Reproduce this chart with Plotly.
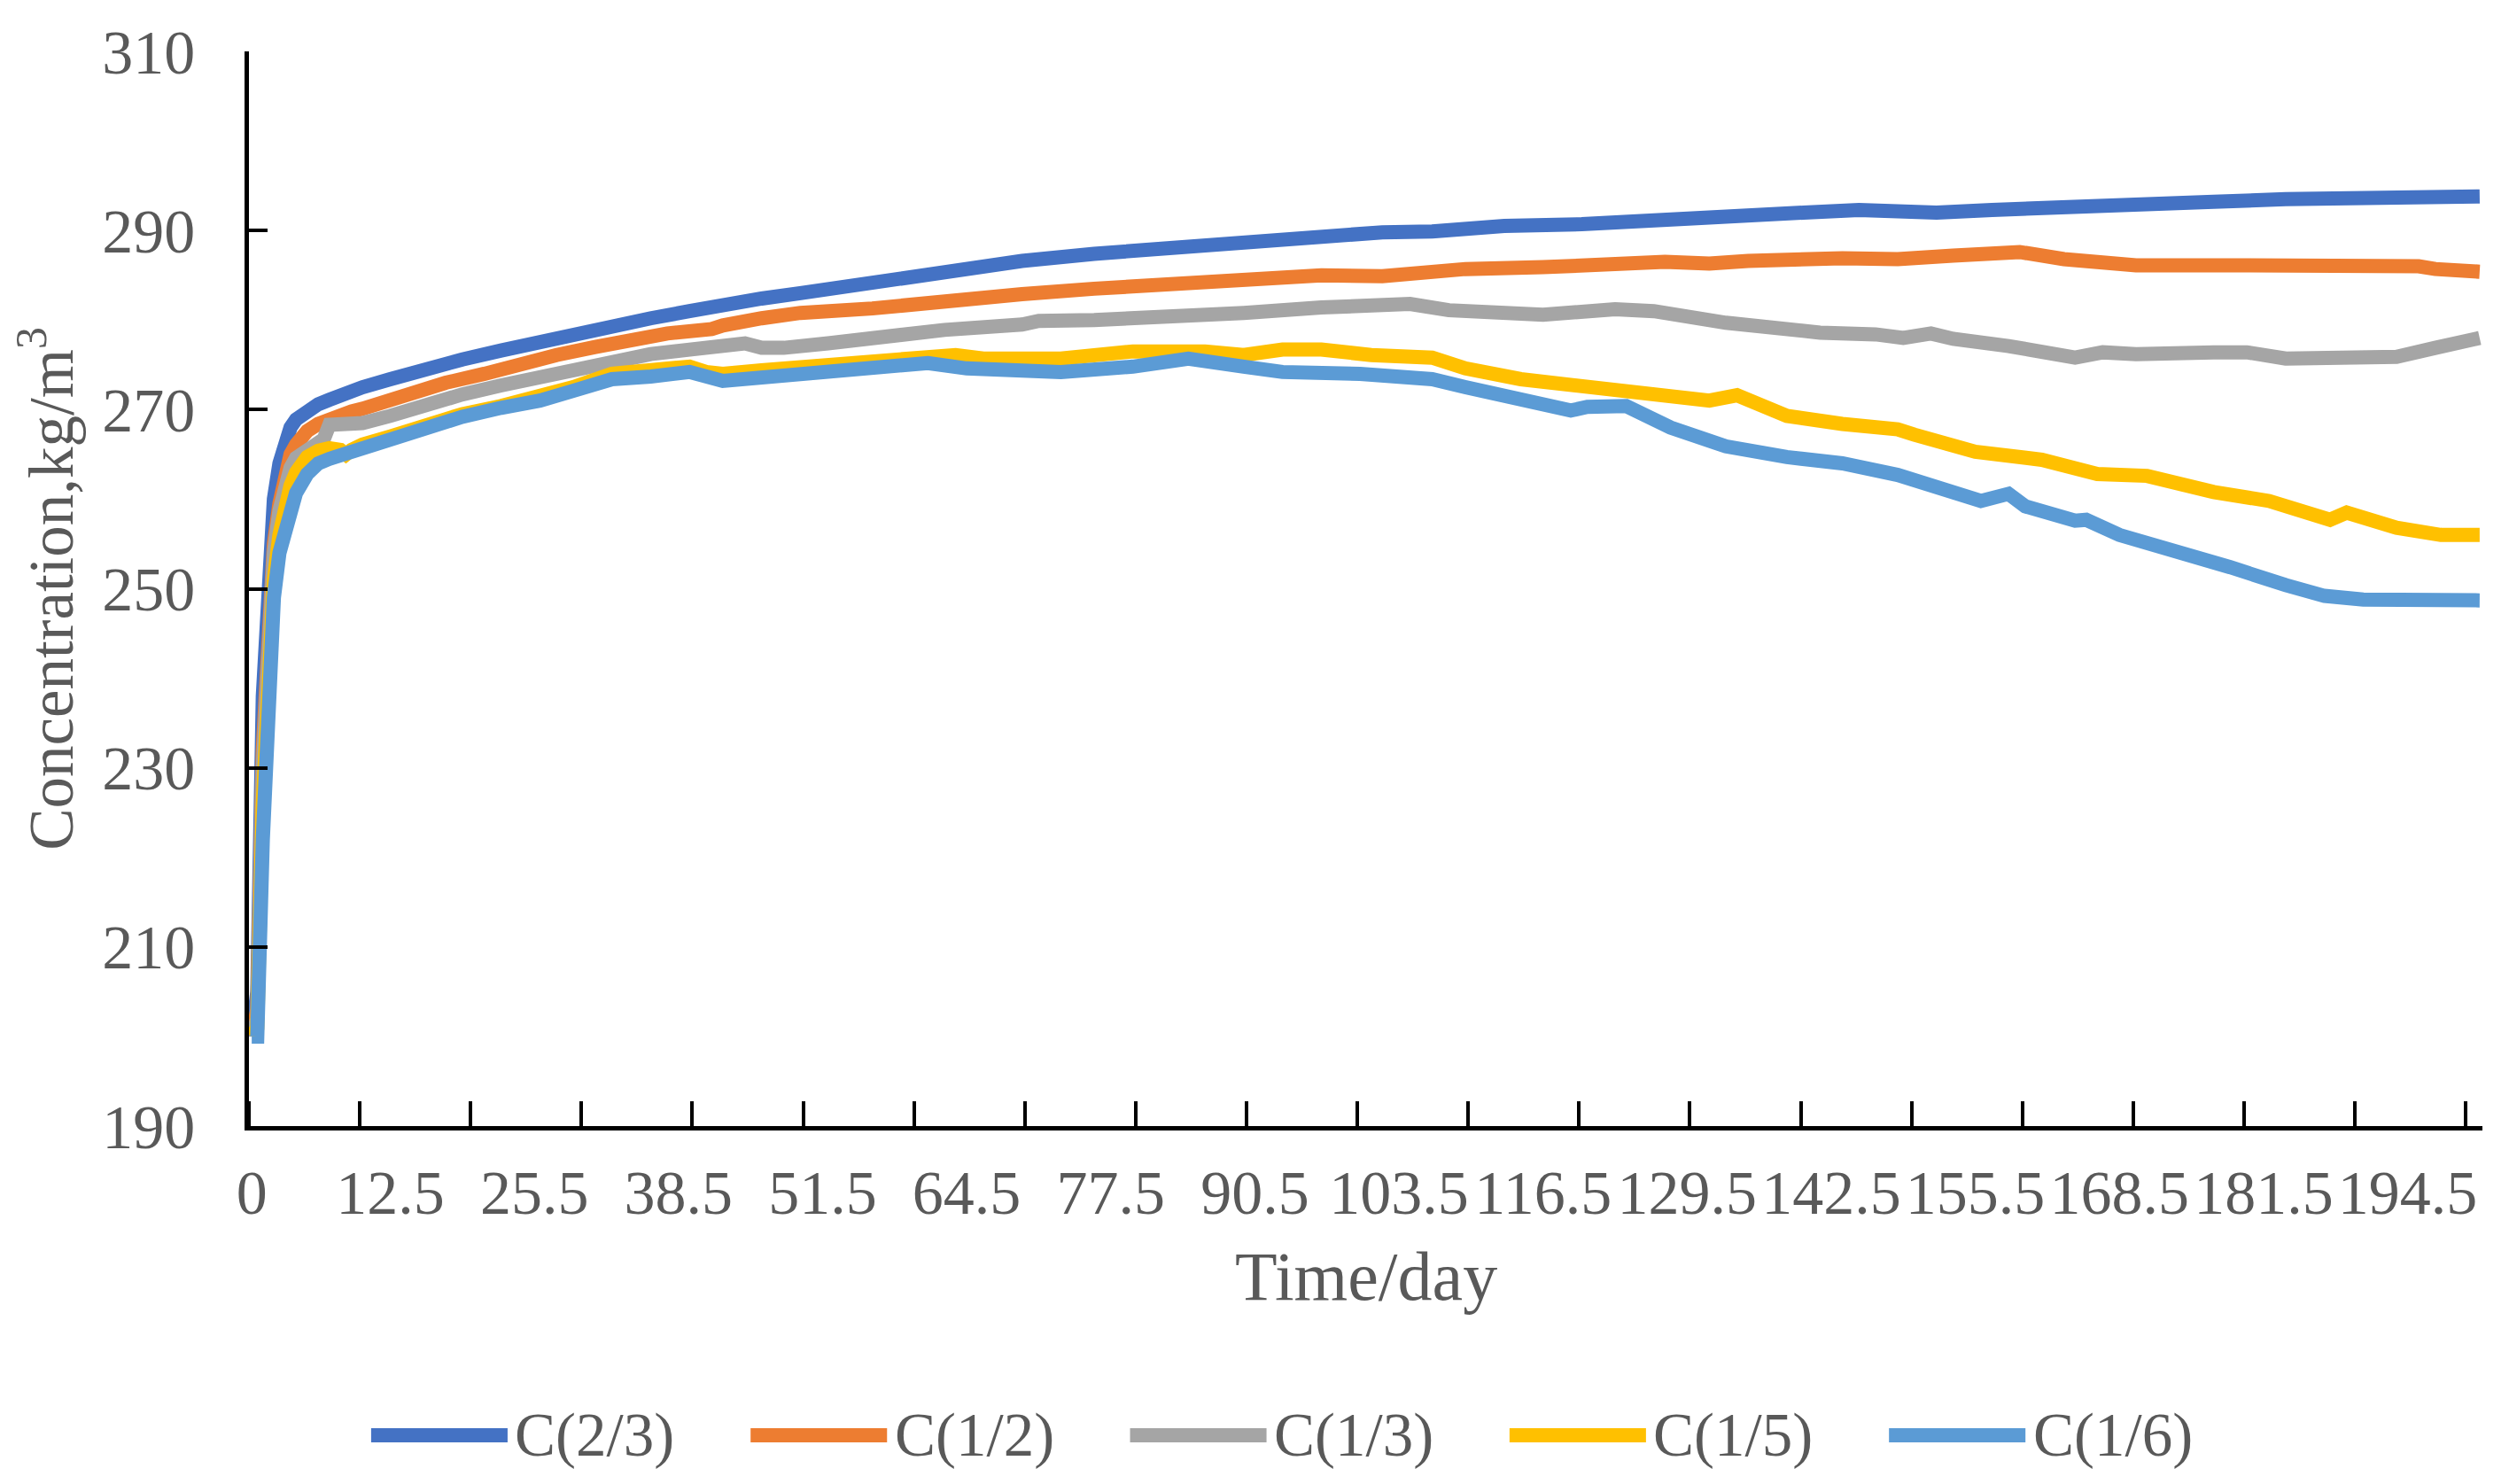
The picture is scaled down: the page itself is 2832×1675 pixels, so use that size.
import plotly.graph_objects as go

# ---------------- data ----------------
series_names = ["C(2/3)", "C(1/2)", "C(1/3)", "C(1/5)", "C(1/6)"]
series_colors = ["#4472C4", "#ED7D31", "#A5A5A5", "#FFC000", "#5B9BD5"]

days_c23 = [0, 0.5, 1, 1.5, 2, 2.5, 3, 3.5, 4, 5, 6, 7, 8, 9, 10, 12.5, 15.5, 19, 22.5, 26, 29,
            32.5, 36, 39.5, 42.5, 46, 49.5, 56, 62.5, 69.5, 76, 83, 89.5, 96.5, 102, 106.5, 113,
            120, 126.5, 133, 140, 145, 148.5, 152, 157, 163.5, 170, 177, 183.5, 190.5, 194, 201]
conc_c23 = [200, 205, 238, 252, 260, 264, 266.5, 268, 268.9, 270.0, 270.6, 271.1, 271.6, 272.1,
            272.5, 273.4, 274.5, 275.6, 276.6, 277.6, 278.5, 279.4, 280.2, 281.0, 281.8, 282.4,
            283.0, 284.3, 285.6, 286.6, 287.4, 288.1, 288.7, 289.4, 289.8, 289.9, 290.5, 290.7,
            291.0, 291.5, 292.0, 292.3, 292.1, 292.0, 292.3, 292.7, 292.8, 293.2, 293.5, 293.6,
            293.8, 293.8]

days_c12 = [0, 0.5, 1, 1.5, 2, 2.5, 3, 3.5, 4, 5, 6, 7, 8, 9, 10, 12, 14, 17.5, 21, 24, 27.5, 31,
            34, 37.5, 41.5, 42.5, 46, 49.5, 56, 62.5, 69.5, 76, 83, 89.5, 96.5, 102, 109.5, 116.5,
            123, 127.5, 131.5, 135, 143.5, 148.5, 153.5, 156.5, 159.5, 163.5, 170, 180, 190, 195.5,
            197, 201]
conc_c12 = [200, 203, 232, 248, 255, 259.5, 263, 265, 266.1, 267.6, 268.4, 269.0, 269.4, 269.8,
            270.1, 270.9, 271.7, 273.0, 274.0, 275.1, 276.1, 277.0, 277.8, 278.5, 279.0, 279.4,
            280.2, 280.8, 281.3, 282.2, 282.9, 283.5, 284.1, 284.6, 285.0, 284.9, 285.7, 285.9,
            286.3, 286.5, 286.3, 286.6, 286.9, 286.8, 287.2, 287.5, 287.6, 286.8, 286.1, 286.1,
            286.1, 286.0, 285.7, 285.4]

days_c13 = [0, 0.5, 1, 1.5, 2, 2.5, 3, 3.5, 4, 5, 6, 6.5, 7, 8, 10, 12.5, 15.5, 19, 22.5, 26, 29,
            32.5, 36, 39.5, 42.5, 44.5, 46, 48, 52, 56, 62.5, 69.5, 71, 76, 83, 89.5, 96.5, 101,
            104.5, 108, 113, 116.5, 123, 126.5, 133, 136.5, 141.5, 146.5, 149, 151.5, 153.5, 158.5,
            164.5, 167, 170, 177, 180, 183.5, 190.5, 193.5, 197, 201]
conc_c13 = [200, 202, 230, 246, 254, 258.7, 261.5, 263.5, 264.6, 265.5, 266.3, 266.7, 268.3, 268.3,
            268.5, 269.3, 270.6, 271.7, 272.7, 273.6, 274.6, 275.3, 276.2, 276.7, 277.1, 277.4,
            276.9, 276.9, 277.4, 278.0, 278.9, 279.5, 279.9, 280.0, 280.3, 280.8, 281.4, 281.7,
            281.8, 281.1, 280.8, 280.6, 281.2, 281.0, 279.7, 279.1, 278.6, 278.4, 278.0, 278.5,
            277.9, 277.1, 275.8, 276.4, 276.2, 276.4, 276.4, 275.7, 275.7, 275.9, 276.9, 278.0]

days_c15 = [0, 0.5, 1, 1.5, 2, 2.5, 3, 3.5, 4, 5, 6, 7, 8, 8.5, 9, 10, 12.5, 15.5, 19, 22.5, 26, 29,
            32.5, 36, 39.5, 41, 42.5, 46, 51.5, 54.5, 61, 63.5, 66, 73, 79.5, 83, 86, 89.5, 93,
            96.5, 101, 106.5, 109.5, 114.5, 120, 126.5, 131.5, 134, 138.5, 143.5, 148.5, 150,
            152.5, 155.5, 161.5, 166.5, 171, 177, 182, 187.5, 189, 193.5, 197.5, 201]
conc_c15 = [200, 201, 226, 243, 251, 256, 259.4, 261.5, 263.0, 264.7, 265.4, 265.7, 265.5, 265.0,
            265.5, 266.1, 267.0, 268.3, 269.5, 270.4, 271.4, 272.5, 274.0, 274.4, 274.8, 274.2,
            274.0, 274.4, 275.0, 275.2, 276.1, 276.1, 275.7, 275.7, 276.5, 276.7, 276.5, 276.1,
            276.7, 276.7, 276.1, 275.8, 274.6, 273.4, 272.7, 271.7, 271.0, 271.6, 269.3, 268.4,
            267.8, 267.2, 266.4, 265.3, 264.4, 262.8, 262.6, 260.8, 259.8, 257.7, 258.5, 256.8,
            256.0, 256.0]

days_c16 = [0, 0.5, 1, 1.5, 2, 2.5, 3, 3.5, 4, 5, 6, 7, 8, 9, 10, 12.5, 15.5, 19, 22.5, 26, 29,
            32.5, 36, 39.5, 42.5, 46, 51.5, 54.5, 61, 64.5, 67.5, 73, 79.5, 84.5, 89.5, 93, 100,
            103, 106.5, 109.5, 114.5, 119, 120.5, 124, 128, 133, 138.5, 143.5, 148.5, 152, 154,
            156, 158.5, 160, 164.5, 165.5, 168.5, 173.5, 178.5, 183.5, 187, 190.5, 195.5, 201]
conc_c16 = [200, 200, 222, 240, 249, 254, 256.5, 259, 260.7, 262.8, 264.0, 264.5, 264.9, 265.1,
            265.5, 266.6, 268.0, 269.2, 270.2, 271.0, 272.1, 273.4, 273.7, 274.2, 273.2, 273.6,
            274.0, 274.2, 275.2, 274.6, 274.4, 274.2, 274.8, 275.7, 274.8, 274.2, 274.0, 273.6,
            273.4, 272.5, 271.0, 269.9, 270.3, 270.4, 268.0, 265.9, 264.7, 264.0, 262.7, 261.2,
            260.6, 259.8, 260.6, 259.2, 257.6, 257.7, 256.0, 254.3, 252.4, 250.4, 249.2, 248.8,
            248.8, 248.7]

x_tick_labels = ["0", "12.5", "25.5", "38.5", "51.5", "64.5", "77.5", "90.5", "103.5",
                 "116.5", "129.5", "142.5", "155.5", "168.5", "181.5", "194.5"]
y_tick_values = [190, 210, 230, 250, 270, 290, 310]

x_title = "Time/day"
y_title = "Concentration,kg/m<sup>3</sup>"

# ---------------- figure ----------------
FONT = "Liberation Serif, Times New Roman, serif"
TXT = "#595959"
LW = 16

all_days = [days_c23, days_c12, days_c13, days_c15, days_c16]
all_conc = [conc_c23, conc_c12, conc_c13, conc_c15, conc_c16]

fig = go.Figure()
for name, color, xs, ys in zip(series_names, series_colors, all_days, all_conc):
    fig.add_trace(go.Scatter(
        x=xs, y=ys, name=name, mode="lines",
        line=dict(color=color, width=LW),
        showlegend=False,
    ))

# custom legend (long line samples like the original)
leg_y = -0.2877
leg_x0 = 0.0547
leg_step = 0.1699
leg_len = 0.0611
for i, (name, color) in enumerate(zip(series_names, series_colors)):
    x0 = leg_x0 + i * leg_step
    fig.add_shape(type="line", xref="paper", yref="paper",
                  x0=x0, x1=x0 + leg_len, y0=leg_y, y1=leg_y,
                  line=dict(color=color, width=LW))
    fig.add_annotation(xref="paper", yref="paper", x=x0 + leg_len + 0.0025, y=leg_y,
                       text=name, showarrow=False, xanchor="left", yanchor="middle",
                       font=dict(family=FONT, size=69, color=TXT))

# x-axis title placed as in the original
fig.add_annotation(xref="paper", yref="paper", x=0.5, y=-0.1401,
                   text=x_title, showarrow=False, xanchor="center", yanchor="middle",
                   font=dict(family=FONT, size=78, color=TXT))

fig.update_layout(
    width=2832, height=1675,
    margin=dict(l=273, r=38, t=50, b=412),
    paper_bgcolor="white", plot_bgcolor="white",
    font=dict(family=FONT, color=TXT),
    showlegend=False,
)

fig.update_xaxes(
    range=[-0.25, 201.25],
    tickmode="array",
    tickvals=[float(v) for v in x_tick_labels],
    ticktext=x_tick_labels,
    ticks="",
    tickangle=0,
    tickfont=dict(family=FONT, size=70, color=TXT),
    ticklabelstandoff=10,
    minor=dict(tick0=-0.25, dtick=10, ticks="inside", ticklen=28, tickwidth=4,
               tickcolor="black", showgrid=False),
    showline=True, linecolor="black", linewidth=4.5,
    showgrid=False, zeroline=False,
)

fig.update_yaxes(
    range=[190, 310],
    tickmode="array",
    tickvals=y_tick_values,
    ticks="inside", ticklen=21, tickwidth=4, tickcolor="black",
    tickfont=dict(family=FONT, size=70, color=TXT),
    ticklabelstandoff=42,
    showline=True, linecolor="black", linewidth=4.5,
    showgrid=False, zeroline=False,
    title=dict(text=y_title, font=dict(family=FONT, size=71, color=TXT), standoff=20),
)

fig.write_html("out.html")
